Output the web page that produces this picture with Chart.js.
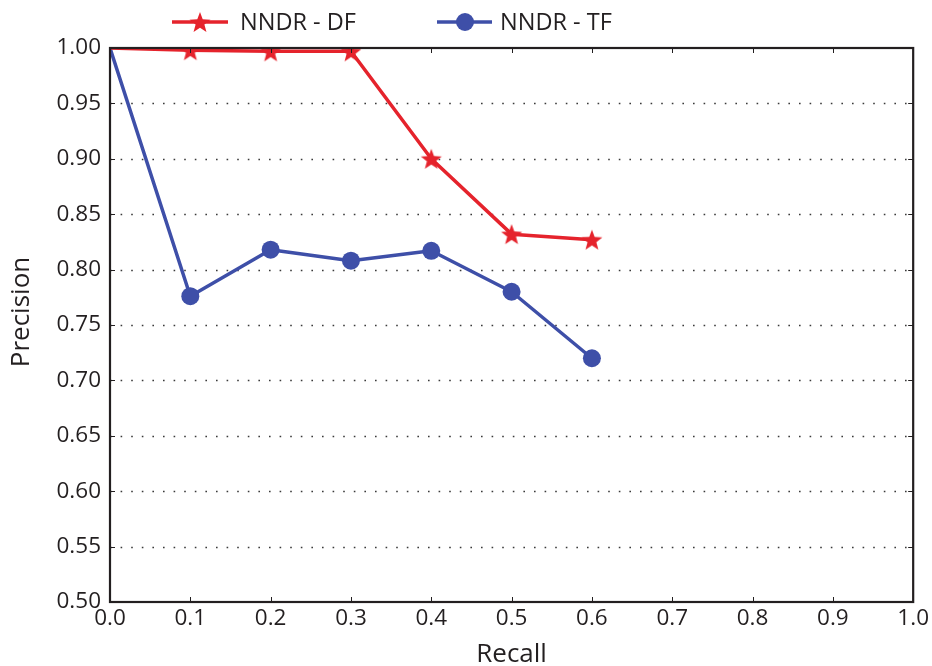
<!DOCTYPE html>
<html>
<head>
<meta charset="utf-8">
<script src="https://cdn.jsdelivr.net/npm/chart.js@4"></script>
<style>
  body { margin: 0; background: #fff; }
  #wrap { width: 932px; height: 666px; }
</style>
</head>
<body>
<div id="wrap"><canvas id="chart" width="932" height="666"></canvas></div>
<script>
// data
const recall = [0.0, 0.1, 0.2, 0.3, 0.4, 0.5, 0.6];
const dfPrecision = [1.0, 0.998, 0.997, 0.997, 0.900, 0.832, 0.827];
const tfPrecision = [1.0, 0.776, 0.818, 0.808, 0.817, 0.780, 0.720];
const seriesNames = ['NNDR - DF', 'NNDR - TF'];
const xTicks = [0.0, 0.1, 0.2, 0.3, 0.4, 0.5, 0.6, 0.7, 0.8, 0.9, 1.0];
const yTicks = [0.50, 0.55, 0.60, 0.65, 0.70, 0.75, 0.80, 0.85, 0.90, 0.95, 1.00];

const RED = '#e5232c';
const BLUE = '#3e4fa8';
const INK = '#231f20';
const FONT = "'Open Sans', 'DejaVu Sans', sans-serif";

// filled five point star used as point style
const makeStar = (r, color) => {
    const c = document.createElement('canvas');
    const s = Math.ceil(r * 2 + 2);
    c.width = s; c.height = s;
    const g = c.getContext('2d');
    g.translate(s / 2, s / 2 + r * 0.1);
    g.beginPath();
    for (let i = 0; i < 10; i++) {
        const rad = i % 2 === 0 ? r : r * 0.42;
        const a = -Math.PI / 2 + i * Math.PI / 5;
        g.lineTo(rad * Math.cos(a), rad * Math.sin(a));
    }
    g.closePath();
    g.fillStyle = color;
    g.fill();
    return c;
};
const starImg = makeStar(11, RED);

const toPoints = (xs, ys) => xs.map((x, i) => ({ x: x, y: ys[i] }));
// first point has no marker in the original
const radii = recall.map((_, i) => (i === 0 ? 0 : 9));

const frame = {
    id: 'frame',
    beforeDatasetsDraw(chart) {
        const { ctx, chartArea: a, scales } = chart;
        ctx.save();
        ctx.strokeStyle = '#3a3a3a';
        ctx.lineWidth = 1.6;
        ctx.setLineDash([1.6, 9]);
        yTicks.forEach(v => {
            if (v <= yTicks[0] || v >= yTicks[yTicks.length - 1]) return;
            const y = Math.round(scales.y.getPixelForValue(v)) + 0.5;
            ctx.beginPath();
            ctx.moveTo(a.left, y);
            ctx.lineTo(a.right, y);
            ctx.stroke();
        });
        ctx.restore();
    },
    afterDatasetsDraw(chart) {
        const { ctx, chartArea: a, scales } = chart;
        ctx.save();
        ctx.strokeStyle = INK;
        ctx.lineWidth = 1;
        xTicks.forEach(v => {
            const x = Math.round(scales.x.getPixelForValue(v)) + 0.5;
            ctx.beginPath();
            ctx.moveTo(x, a.bottom); ctx.lineTo(x, a.bottom - 5);
            ctx.moveTo(x, a.top); ctx.lineTo(x, a.top + 5);
            ctx.stroke();
        });
        yTicks.forEach(v => {
            const y = Math.round(scales.y.getPixelForValue(v)) + 0.5;
            ctx.beginPath();
            ctx.moveTo(a.left, y); ctx.lineTo(a.left + 5, y);
            ctx.moveTo(a.right, y); ctx.lineTo(a.right - 5, y);
            ctx.stroke();
        });
        ctx.lineWidth = 2.2;
        ctx.strokeRect(a.left, a.top, a.right - a.left, a.bottom - a.top);

        // y axis title, sits a bit above the plot centre like the original
        ctx.save();
        ctx.translate(22, 312);
        ctx.rotate(-Math.PI / 2);
        ctx.fillStyle = INK;
        ctx.font = '26px ' + FONT;
        ctx.textAlign = 'center';
        ctx.textBaseline = 'middle';
        ctx.fillText('Precision', 0, 0);
        ctx.restore();

        // legend: line with marker, then label
        const ly = 22;
        ctx.lineWidth = 3.5;
        ctx.strokeStyle = RED;
        ctx.beginPath(); ctx.moveTo(172, ly); ctx.lineTo(228, ly); ctx.stroke();
        ctx.drawImage(starImg, 200 - starImg.width / 2, ly - starImg.height / 2);
        ctx.strokeStyle = BLUE;
        ctx.beginPath(); ctx.moveTo(437, ly); ctx.lineTo(492, ly); ctx.stroke();
        ctx.fillStyle = BLUE;
        ctx.beginPath(); ctx.arc(465, ly, 9, 0, Math.PI * 2); ctx.fill();
        ctx.fillStyle = INK;
        ctx.font = '23.5px ' + FONT;
        ctx.textBaseline = 'middle';
        ctx.fillText(seriesNames[0], 240, ly + 1);
        ctx.fillText(seriesNames[1], 500, ly + 1);
        ctx.restore();
    }
};

new Chart(document.getElementById('chart'), {
    type: 'line',
    data: {
        datasets: [
            {
                label: seriesNames[0],
                data: toPoints(recall, dfPrecision),
                borderColor: RED,
                backgroundColor: RED,
                borderWidth: 3.5,
                borderJoinStyle: 'round',
                pointStyle: starImg,
                pointRadius: radii,
                clip: 0,
                tension: 0
            },
            {
                label: seriesNames[1],
                data: toPoints(recall, tfPrecision),
                borderColor: BLUE,
                backgroundColor: BLUE,
                borderWidth: 3.5,
                borderJoinStyle: 'round',
                pointStyle: 'circle',
                pointRadius: radii,
                pointBorderWidth: 0,
                clip: 0,
                tension: 0
            }
        ]
    },
    options: {
        responsive: false,
        animation: false,
        layout: { padding: { top: 48, right: 18, left: 0, bottom: 0 } },
        plugins: { legend: { display: false }, tooltip: { enabled: false } },
        scales: {
            x: {
                type: 'linear',
                min: 0, max: 1,
                afterBuildTicks: s => { s.ticks = xTicks.map(v => ({ value: v })); },
                afterFit: s => { s.height = 64; },
                grid: { display: false, drawTicks: false },
                border: { display: false },
                ticks: {
                    padding: 3,
                    color: INK,
                    font: { family: FONT, size: 22.5 },
                    maxRotation: 0,
                    callback: v => v.toFixed(1)
                },
                title: {
                    display: true,
                    text: 'Recall',
                    color: INK,
                    font: { family: FONT, size: 26, lineHeight: 1 },
                    padding: { top: 0, bottom: -2 }
                }
            },
            y: {
                min: 0.5, max: 1,
                afterBuildTicks: s => { s.ticks = yTicks.map(v => ({ value: v })); },
                afterFit: s => { s.width = 110; },
                grid: { display: false, drawTicks: false },
                border: { display: false },
                ticks: {
                    padding: 9,
                    color: INK,
                    font: { family: FONT, size: 22.5 },
                    callback: v => v.toFixed(2)
                },
                title: { display: false }
            }
        }
    },
    plugins: [frame]
});
</script>
</body>
</html>
